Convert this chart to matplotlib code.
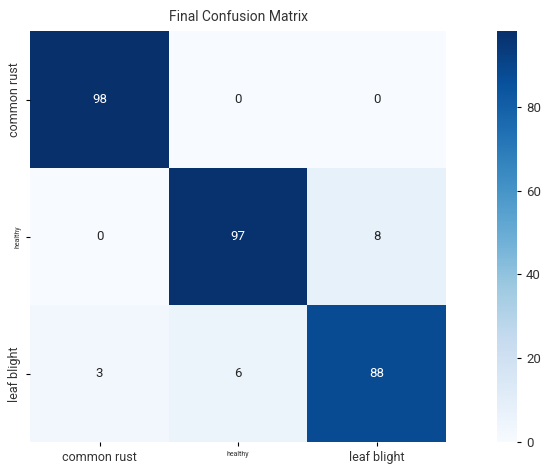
import numpy as np
import matplotlib
matplotlib.use("Agg")
import matplotlib.pyplot as plt
import seaborn as sns

classes = ["common rust", "healthy", "leaf blight"]
row_common_rust = [98, 0, 0]
row_healthy = [0, 97, 8]
row_leaf_blight = [3, 6, 88]

cm = np.array([row_common_rust, row_healthy, row_leaf_blight])

plt.rcParams['font.family'] = ['Roboto', 'DejaVu Sans']
plt.rcParams['text.color'] = '#333333'
plt.rcParams['xtick.labelcolor'] = '#333333'
plt.rcParams['ytick.labelcolor'] = '#333333'

fig = plt.figure(figsize=(5.5, 4.72), dpi=100)
ax = fig.add_axes([0.055, 0.063, 0.756, 0.871])
cax = fig.add_axes([0.904, 0.063, 0.036, 0.871])
sns.heatmap(cm, annot=True, fmt="d", cmap="Blues", ax=ax, cbar_ax=cax,
            xticklabels=classes, yticklabels=classes,
            annot_kws={"fontsize": 9.5})
ax.set_title("Final Confusion Matrix", fontsize=10, pad=7)
ax.tick_params(labelsize=9, length=3)
for lab in ax.get_xticklabels() + ax.get_yticklabels():
    if lab.get_text() == "healthy":
        lab.set_fontsize(5)
cax.tick_params(labelsize=9.5, length=3)
cax.set_yticks([0, 20, 40, 60, 80])
plt.savefig("out.png", dpi=100)
